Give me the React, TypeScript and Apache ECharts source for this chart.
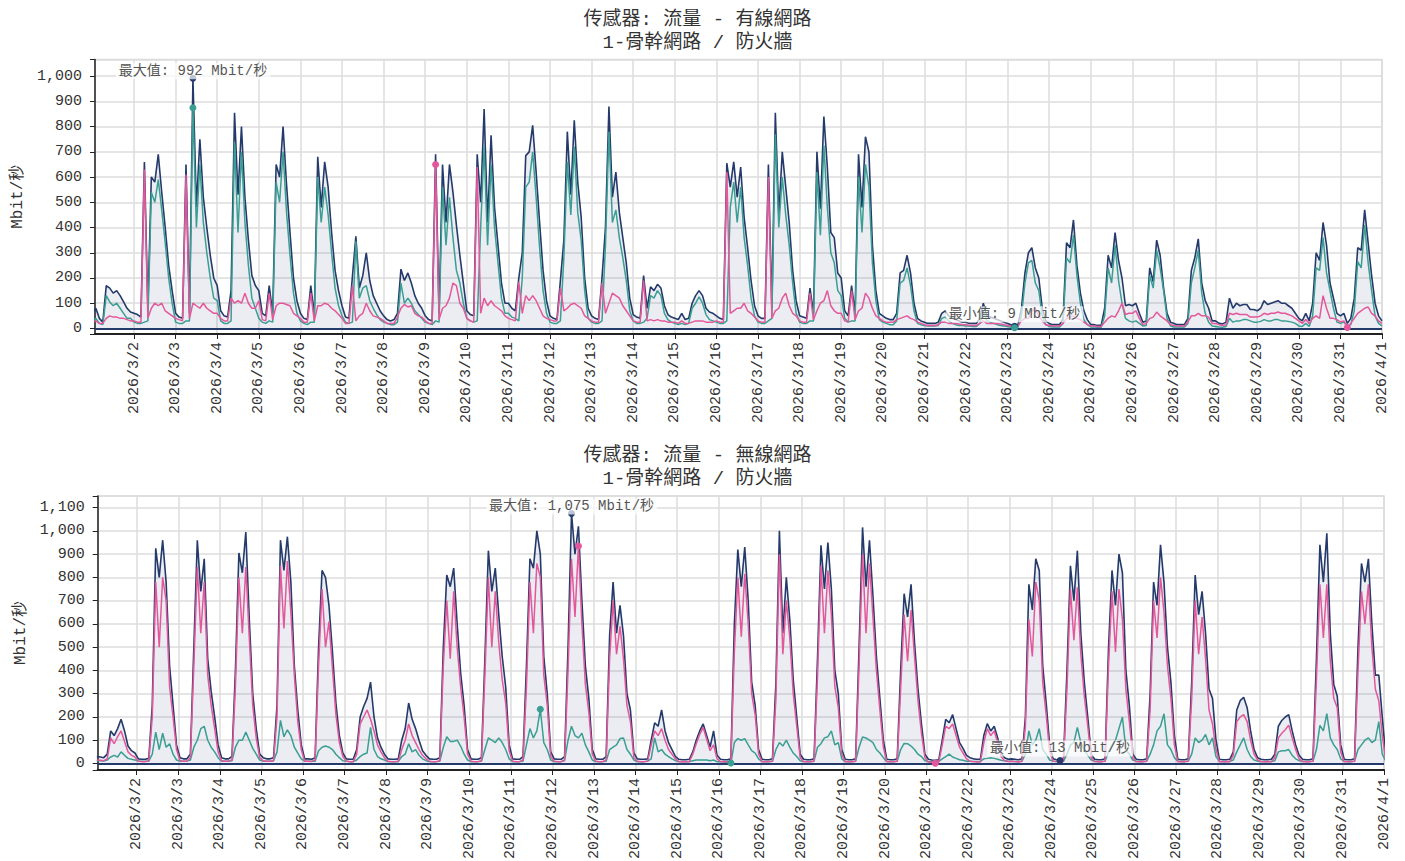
import React, { useEffect, useRef } from 'react';
import * as echarts from 'echarts';

const TOP_TITLE = ['传感器: 流量 - 有線網路', '1-骨幹網路 / 防火牆'];
const BOTTOM_TITLE = ['传感器: 流量 - 無線網路', '1-骨幹網路 / 防火牆'];
const UNIT = 'Mbit/秒';
const MAX_TEXT = '最大值';
const MIN_TEXT = '最小值';

// Wired (top): samples every 2 h starting 2026/3/1 00:00, 12 per day, last = 2026/4/1 00:00
const L_TOTAL = [
  60, 80, 40, 25, 170, 160, 140, 150, 130, 105, 80, 65,
  60, 55, 45, 660, 80, 600, 580, 690, 540, 400, 250, 150,
  60, 45, 40, 650, 60, 992, 480, 750, 520, 400, 290, 200,
  170, 70, 50, 45, 150, 855, 530, 800, 520, 350, 210, 170,
  150, 60, 50, 170, 60, 650, 600, 800, 570, 380, 200, 110,
  60, 40, 35, 170, 50, 680, 480, 660, 560, 380, 230, 150,
  90, 45, 40, 205, 365, 160, 210, 300, 190, 130, 100, 70,
  50, 35, 30, 35, 60, 235, 190, 220, 180, 130, 100, 80,
  50, 35, 30, 690, 60, 650, 420, 650, 540, 410, 290, 180,
  70, 55, 50, 690, 500, 870, 420, 766, 480, 330, 180, 100,
  100, 80, 70, 200, 300, 685, 700, 805, 620, 420, 230, 110,
  50, 40, 35, 190, 350, 780, 530, 825, 580, 440, 200, 80,
  50, 40, 35, 200, 400, 880, 520, 620, 460, 360, 260, 120,
  55, 45, 40, 210, 80, 165, 150, 175, 160, 90, 55, 45,
  40, 35, 60, 35, 40, 100, 130, 150, 130, 80, 65, 60,
  50, 40, 35, 655, 560, 660, 520, 640, 440, 320, 190, 90,
  50, 40, 40, 650, 80, 855, 450, 700, 560, 420, 230, 110,
  50, 45, 40, 160, 60, 700, 475, 840, 640, 380, 360, 220,
  200, 70, 50, 170, 60, 690, 480, 760, 700, 330, 150, 60,
  50, 40, 35, 35, 60, 220, 230, 290, 220, 100, 40, 30,
  25, 20, 20, 20, 25, 60, 70, 50, 40, 35, 30, 25,
  25, 20, 20, 20, 40, 100, 50, 45, 40, 35, 30, 25,
  20, 15, 9, 15, 80, 220, 300, 320, 240, 200, 80, 30,
  20, 15, 15, 15, 40, 340, 320, 430, 250, 140, 70, 35,
  15, 15, 12, 12, 80, 290, 240, 380, 270, 200, 90, 95,
  90, 100, 60, 25, 30, 240, 185, 350, 290, 160, 60, 25,
  20, 15, 15, 15, 40, 230, 280, 355, 180, 110, 80, 30,
  30, 20, 18, 25, 120, 80, 100, 90, 95, 95, 75, 75,
  70, 80, 110, 95, 100, 105, 110, 100, 100, 90, 80, 60,
  40, 30, 60, 30, 100, 300, 270, 420, 330, 180, 120, 60,
  50, 60, 20, 40, 120, 320, 310, 470, 340, 210, 100, 50,
  30,
];
const L_TEAL = [
  30, 40, 20, 15, 130, 105, 90, 100, 80, 60, 40, 40,
  25, 20, 20, 25, 30, 540, 500, 590, 470, 340, 200, 100,
  25, 20, 20, 30, 30, 875, 400, 650, 420, 300, 200, 120,
  110, 30, 20, 20, 30, 740, 380, 700, 420, 250, 120, 80,
  40, 25, 20, 30, 25, 580, 500, 700, 460, 290, 140, 60,
  30, 20, 15, 25, 25, 600, 420, 560, 450, 300, 160, 90,
  50, 25, 20, 25, 345, 120, 160, 170, 110, 80, 55, 35,
  25, 20, 15, 15, 25, 180, 100, 120, 100, 70, 55, 40,
  25, 20, 15, 30, 25, 560, 330, 520, 360, 230, 180, 100,
  40, 30, 25, 30, 400, 720, 330, 650, 400, 260, 120, 60,
  60, 45, 40, 30, 200, 560, 580, 700, 520, 320, 150, 60,
  25, 20, 20, 30, 280, 660, 450, 720, 460, 350, 150, 40,
  25, 20, 20, 30, 330, 780, 420, 470, 360, 280, 190, 70,
  30, 20, 20, 25, 40, 130, 120, 150, 130, 60, 35, 25,
  20, 15, 20, 15, 20, 80, 100, 125, 100, 55, 35, 30,
  25, 20, 20, 30, 480, 580, 420, 560, 360, 250, 120, 50,
  25, 20, 20, 30, 40, 770, 400, 600, 450, 330, 180, 60,
  25, 20, 20, 30, 30, 620, 370, 725, 480, 300, 260, 150,
  130, 40, 25, 30, 30, 600, 380, 650, 560, 260, 110, 35,
  25, 20, 15, 15, 30, 180, 190, 240, 170, 70, 20, 15,
  12, 10, 10, 10, 12, 40, 45, 30, 20, 15, 12, 12,
  10, 10, 8, 8, 20, 70, 30, 25, 20, 15, 12, 10,
  8, 5, 3, 5, 50, 180, 260, 270, 180, 150, 50, 15,
  8, 6, 6, 6, 20, 280, 260, 370, 210, 100, 35, 15,
  6, 6, 5, 5, 50, 240, 180, 330, 190, 100, 40, 30,
  25, 30, 20, 10, 12, 210, 160, 310, 240, 150, 40, 10,
  6, 6, 6, 6, 20, 180, 240, 310, 140, 60, 25, 10,
  8, 6, 5, 8, 40, 25, 30, 30, 35, 35, 30, 25,
  25, 28, 35, 30, 30, 35, 35, 30, 30, 28, 25, 20,
  10, 8, 20, 8, 50, 240, 230, 360, 220, 150, 80, 25,
  20, 25, 10, 15, 70, 265, 240, 410, 260, 150, 50, 20,
  10,
];
const L_PINK = [
  30, 30, 20, 20, 40, 50, 45, 45, 40, 40, 35, 30,
  30, 25, 25, 630, 40, 80, 100, 90, 100, 70, 60, 50,
  40, 35, 30, 610, 40, 100, 90, 80, 100, 80, 70, 60,
  60, 40, 30, 30, 120, 100, 110, 100, 140, 100, 80, 80,
  110, 35, 30, 140, 35, 90, 100, 100, 95, 90, 60, 50,
  40, 25, 25, 140, 30, 90, 90, 100, 95, 80, 70, 55,
  40, 20, 20, 170, 30, 50, 60, 100, 70, 50, 45, 40,
  30, 20, 20, 20, 45, 80, 95, 85, 90, 60, 50, 45,
  30, 20, 20, 650, 35, 80, 90, 120, 180, 170, 100, 80,
  40, 30, 25, 640, 60, 120, 90, 110, 90, 80, 70, 50,
  40, 35, 30, 185, 60, 130, 110, 130, 110, 80, 50, 40,
  35, 30, 30, 160, 70, 80, 95, 100, 90, 80, 50, 40,
  30, 25, 25, 180, 60, 100, 140, 130, 120, 90, 70, 50,
  30, 25, 25, 190, 30, 35, 30, 35, 30, 30, 25, 25,
  25, 20, 30, 20, 20, 25, 30, 30, 30, 25, 25, 25,
  30, 25, 25, 620, 60, 70, 80, 80, 100, 70, 60, 45,
  30, 25, 25, 600, 40, 70, 80, 120, 140, 90, 60, 50,
  30, 25, 25, 140, 35, 70, 100, 110, 150, 90, 70, 60,
  60, 30, 25, 150, 35, 70, 80, 140, 120, 80, 50, 40,
  30, 25, 25, 25, 35, 40, 45, 50, 40, 35, 25, 20,
  15, 12, 12, 12, 15, 25, 25, 20, 20, 20, 18, 15,
  15, 12, 12, 12, 20, 30, 20, 20, 20, 20, 18, 15,
  12, 10, 6, 10, 30, 40, 40, 70, 80, 50, 30, 15,
  12, 10, 10, 10, 20, 40, 45, 50, 40, 35, 25, 15,
  10, 10, 8, 8, 25, 40, 50, 45, 70, 100, 55, 60,
  60, 70, 40, 15, 20, 40, 45, 65, 50, 40, 30, 15,
  12, 10, 10, 10, 25, 50, 50, 60, 50, 50, 45, 20,
  20, 15, 12, 15, 60, 55, 60, 55, 55, 55, 45, 45,
  45, 50, 60, 55, 60, 60, 65, 60, 60, 55, 50, 40,
  30, 20, 35, 20, 40, 50, 40, 130, 80, 40, 40, 35,
  25, 30, 4, 20, 40, 60, 70, 80, 85, 60, 50, 30,
  20,
];

// Wireless (bottom): samples every 2 h starting 2026/3/1 01:00, 12 per day, last = 2026/4/1 01:00
const W_TOTAL = [
  30, 28, 25, 40, 140, 120, 150, 190, 140, 75, 55, 45,
  20, 18, 18, 22, 250, 925, 800, 960, 780, 420, 250, 80,
  25, 20, 20, 40, 500, 960, 740, 880, 450, 310, 200, 80,
  25, 20, 20, 30, 400, 905, 820, 995, 620, 300, 150, 40,
  25, 20, 20, 25, 250, 960, 830, 975, 780, 420, 230, 80,
  20, 20, 18, 25, 500, 830, 800, 680, 480, 260, 120, 45,
  20, 18, 18, 60, 200, 245, 280, 350, 200, 110, 70, 40,
  20, 18, 18, 20, 100, 150, 260, 190, 150, 100, 55, 35,
  20, 18, 18, 25, 500, 810, 760, 840, 600, 390, 250, 60,
  20, 18, 18, 25, 450, 915, 740, 840, 640, 460, 330, 80,
  20, 18, 18, 30, 420, 880, 840, 1000, 900, 460, 300, 50,
  20, 18, 18, 30, 500, 1075, 900, 1020, 700, 420, 280, 60,
  20, 18, 18, 30, 550, 780, 560, 680, 550, 300, 230, 45,
  20, 18, 18, 20, 100, 175, 160, 230, 140, 90, 60, 30,
  18, 16, 16, 18, 50, 100, 140, 170, 120, 70, 140, 35,
  18, 16, 16, 20, 600, 920, 760, 930, 700, 350, 250, 60,
  18, 16, 16, 20, 350, 1000, 560, 800, 620, 360, 200, 40,
  18, 16, 16, 20, 450, 938, 750, 950, 750, 400, 300, 60,
  18, 16, 16, 20, 500, 1015, 760, 960, 720, 460, 280, 100,
  18, 16, 16, 20, 400, 730, 630, 770, 520, 320, 170, 40,
  18, 15, 14, 16, 100, 190, 175, 210, 150, 90, 65, 35,
  25, 20, 18, 18, 120, 171, 140, 160, 110, 45, 25, 18,
  20, 18, 16, 20, 200, 770, 660, 880, 830, 420, 260, 80,
  20, 16, 13, 20, 400, 850, 700, 915, 560, 350, 200, 40,
  18, 16, 16, 20, 500, 830, 680, 900, 820, 400, 250, 40,
  18, 16, 16, 20, 300, 780, 680, 940, 780, 500, 350, 120,
  18, 16, 16, 20, 350, 810, 640, 740, 560, 320, 280, 100,
  18, 16, 16, 18, 50, 230, 270, 285, 240, 140, 60, 25,
  18, 16, 16, 18, 40, 160, 185, 200, 210, 140, 80, 35,
  18, 16, 16, 20, 450, 940, 780, 990, 560, 340, 290, 80,
  18, 16, 16, 20, 500, 860, 780, 880, 600, 380, 380, 200,
  30,
];
const W_PINK = [
  15, 14, 12, 20, 110, 85, 115, 140, 95, 50, 35, 28,
  10, 8, 8, 12, 200, 780, 500, 800, 700, 330, 200, 60,
  12, 10, 10, 25, 420, 845, 560, 780, 380, 250, 150, 50,
  12, 10, 10, 15, 330, 800, 560, 845, 540, 250, 110, 25,
  12, 10, 10, 12, 200, 850, 580, 870, 650, 380, 180, 60,
  10, 10, 8, 15, 420, 750, 500, 610, 410, 210, 90, 30,
  10, 8, 8, 40, 170, 200, 230, 190, 140, 80, 50, 25,
  10, 8, 8, 10, 60, 100, 170, 120, 90, 60, 35, 20,
  10, 8, 8, 12, 420, 700, 450, 740, 500, 330, 200, 40,
  10, 8, 8, 12, 380, 800, 500, 740, 520, 360, 260, 55,
  10, 8, 8, 15, 330, 780, 560, 860, 800, 380, 250, 30,
  10, 8, 8, 15, 400, 880, 630, 935, 600, 340, 220, 40,
  10, 8, 8, 15, 450, 700, 470, 590, 450, 250, 180, 25,
  10, 8, 8, 10, 80, 140, 120, 150, 100, 60, 40, 20,
  8, 8, 8, 8, 40, 85, 125, 155, 105, 55, 80, 20,
  8, 8, 8, 10, 480, 800, 545, 815, 600, 300, 210, 40,
  8, 8, 8, 10, 280, 900, 470, 700, 540, 300, 160, 25,
  8, 8, 8, 10, 370, 850, 560, 830, 640, 330, 240, 40,
  8, 8, 8, 10, 420, 900, 560, 860, 630, 400, 230, 70,
  8, 8, 8, 10, 320, 640, 440, 660, 460, 270, 130, 25,
  6, 5, 1, 6, 80, 160, 150, 170, 120, 70, 45, 20,
  10, 8, 6, 6, 90, 150, 120, 140, 90, 30, 12, 8,
  10, 8, 6, 10, 160, 620, 460, 780, 700, 350, 210, 50,
  10, 8, 5, 10, 320, 750, 530, 757, 470, 290, 160, 25,
  8, 8, 8, 10, 420, 740, 480, 750, 620, 320, 180, 25,
  8, 8, 8, 10, 230, 700, 540, 800, 650, 420, 280, 80,
  8, 8, 8, 10, 280, 700, 470, 630, 450, 230, 170, 60,
  8, 8, 8, 8, 35, 180, 200, 210, 180, 100, 40, 15,
  8, 8, 8, 8, 25, 110, 130, 145, 165, 110, 60, 20,
  8, 8, 8, 10, 360, 770, 540, 770, 440, 280, 240, 50,
  8, 8, 8, 10, 400, 740, 600, 770, 500, 320, 270, 120,
  15,
];
const W_TEAL = [
  12, 12, 11, 15, 28, 35, 28, 50, 35, 22, 18, 15,
  10, 10, 10, 10, 40, 135, 60, 130, 70, 85, 40, 15,
  10, 10, 10, 15, 70, 100, 150, 160, 100, 70, 50, 25,
  10, 10, 10, 12, 70, 100, 100, 135, 100, 65, 40, 15,
  10, 10, 10, 12, 50, 185, 115, 145, 120, 70, 45, 20,
  10, 10, 10, 10, 55, 70, 75, 70, 60, 40, 25, 12,
  10, 8, 8, 15, 30, 40, 45, 155, 60, 30, 20, 15,
  8, 8, 8, 8, 30, 40, 85, 50, 60, 35, 20, 12,
  8, 8, 8, 10, 70, 115, 95, 95, 100, 75, 40, 15,
  8, 8, 8, 10, 60, 110, 100, 90, 110, 90, 60, 20,
  8, 8, 8, 10, 80, 150, 110, 140, 233, 90, 60, 15,
  8, 8, 8, 12, 100, 160, 120, 110, 130, 80, 50, 15,
  8, 8, 8, 10, 60, 70, 80, 107, 110, 60, 40, 15,
  8, 8, 8, 10, 20, 110, 50, 60, 40, 30, 20, 12,
  8, 7, 7, 8, 12, 15, 15, 15, 15, 12, 15, 8,
  8, 6, 5, 2, 90, 107, 100, 107, 80, 55, 45, 20,
  8, 7, 7, 10, 60, 90, 75, 100, 70, 45, 30, 12,
  8, 7, 7, 10, 70, 85, 110, 115, 140, 80, 90, 20,
  8, 7, 7, 10, 70, 114, 110, 100, 90, 60, 45, 25,
  8, 7, 7, 10, 60, 86, 85, 75, 60, 40, 30, 12,
  8, 8, 8, 9, 20, 30, 40, 28, 22, 16, 14, 10,
  10, 9, 9, 9, 20, 22, 25, 22, 18, 14, 12, 10,
  10, 9, 8, 10, 40, 140, 80, 100, 150, 60, 40, 15,
  10, 8, 6, 10, 40, 80, 90, 155, 90, 60, 35, 15,
  10, 8, 8, 10, 50, 80, 100, 150, 200, 60, 40, 15,
  10, 8, 8, 10, 40, 80, 140, 160, 214, 80, 60, 25,
  10, 8, 8, 10, 40, 110, 90, 100, 125, 80, 110, 30,
  9, 8, 8, 9, 15, 50, 80, 110, 60, 30, 15, 10,
  9, 8, 8, 9, 12, 50, 55, 55, 60, 35, 20, 12,
  10, 8, 8, 10, 60, 164, 140, 214, 110, 80, 60, 20,
  10, 8, 8, 10, 60, 80, 100, 110, 90, 100, 180, 40,
  10,
];

const NAVY = '#243a6b';
const TEAL = '#3a9e93';
const PINK = '#e4589b';
const FILL = 'rgba(36,58,107,0.13)';
const GRIDLINE = '#dcdcdc';
const AXIS = '#222';
const TEXT = '#333';
const MONO = '"Liberation Mono", "Noto Sans CJK TC", monospace';

const HOUR_STEP = 2;
function timeAt(i: number, startHour: number) {
  return new Date(2026, 2, 1 + Math.floor(i / 12), startHour + (i % 12) * HOUR_STEP).getTime();
}
function pairs(values: number[], startHour: number) {
  return values.map((v, i) => [timeAt(i, startHour), v]);
}
function commas(v: number) {
  return String(v).replace(/\B(?=(\d{3})+(?!\d))/g, ',');
}

const X_MIN = new Date(2026, 2, 1, 1, 30).getTime();
const X_MAX = new Date(2026, 3, 1, 0, 0).getTime();
const DAY = 86400000;

function xAxis(gridIndex: number) {
  return {
    type: 'time',
    gridIndex,
    min: X_MIN,
    max: X_MAX,
    minInterval: DAY,
    maxInterval: DAY,
    splitNumber: 31,
    axisLine: { onZero: false, lineStyle: { color: AXIS, width: 2 } },
    axisTick: { show: true, length: 5, lineStyle: { color: AXIS, width: 1 } },
    axisLabel: {
      rotate: 90,
      fontSize: 15,
      fontFamily: MONO,
      color: TEXT,
      margin: 8,
      hideOverlap: false,
      showMaxLabel: true,
      showMinLabel: false,
      formatter: (v: number) => {
        const d = new Date(v);
        if (d.getHours() !== 0 || d.getMinutes() !== 0) return '';
        return `${d.getFullYear()}/${d.getMonth() + 1}/${d.getDate()}`;
      },
    },
    splitLine: { show: true, lineStyle: { color: GRIDLINE, width: 1.5 } },
  };
}

function yAxis(gridIndex: number, min: number, max: number) {
  return {
    type: 'value',
    gridIndex,
    min,
    max,
    splitNumber: 10,
    name: UNIT,
    nameLocation: 'middle',
    nameGap: 66,
    nameTextStyle: { fontSize: 16, fontFamily: MONO, color: TEXT },
    axisLine: { show: true, lineStyle: { color: AXIS, width: 1.5 } },
    axisTick: { show: true, length: 5, lineStyle: { color: AXIS } },
    axisLabel: {
      fontSize: 15,
      fontFamily: MONO,
      color: TEXT,
      margin: 13,
      formatter: (v: number) => (Math.round(v) % 100 === 0 && v >= 0 ? commas(v) : ''),
    },
    splitLine: { show: true, lineStyle: { color: GRIDLINE, width: 1.5 } },
  };
}

const markLabel = {
  show: true,
  position: 'inside',
  fontSize: 14,
  fontFamily: MONO,
  color: '#555',
  backgroundColor: 'rgba(255,255,255,0.7)',
  padding: [1, 3],
};

function totalSeries(values: number[], startHour: number, idx: number) {
  return {
    type: 'line',
    xAxisIndex: idx,
    yAxisIndex: idx,
    data: pairs(values, startHour),
    showSymbol: false,
    symbol: 'none',
    lineStyle: { color: NAVY, width: 1.6 },
    itemStyle: { color: NAVY },
    areaStyle: { color: FILL },
    z: 2,
    markLine: {
      silent: true,
      symbol: 'none',
      label: { show: false },
      lineStyle: { color: NAVY, width: 2, type: 'solid' },
      data: [{ yAxis: 0 }],
    },
    markPoint: {
      symbol: 'circle',
      symbolSize: 7,
      itemStyle: { color: NAVY },
      data: [
        {
          type: 'max',
          label: { ...markLabel, offset: [0, -7], formatter: (p: any) => `${MAX_TEXT}: ${commas(p.value)} ${UNIT}` },
        },
        {
          type: 'min',
          label: { ...markLabel, offset: [0, -12], formatter: (p: any) => `${MIN_TEXT}: ${commas(p.value)} ${UNIT}` },
        },
      ],
    },
  };
}

function partSeries(values: number[], startHour: number, idx: number, color: string, z: number) {
  return {
    type: 'line',
    xAxisIndex: idx,
    yAxisIndex: idx,
    data: pairs(values, startHour),
    showSymbol: false,
    symbol: 'none',
    lineStyle: { color, width: 1.5 },
    itemStyle: { color },
    z,
    markPoint: {
      symbol: 'circle',
      symbolSize: 7,
      itemStyle: { color },
      label: { show: false },
      data: [{ type: 'max' }, { type: 'min' }],
    },
  };
}

function titleText(text: string, y: number) {
  return {
    type: 'text',
    x: 697.5,
    y,
    style: {
      text,
      font: `19px ${MONO}`,
      fill: TEXT,
      textAlign: 'center',
      align: 'center',
      textVerticalAlign: 'middle',
      verticalAlign: 'middle',
    },
  };
}

export default function App() {
  const ref = useRef<HTMLDivElement>(null);
  useEffect(() => {
    if (!ref.current) return;
    const chart = echarts.init(ref.current, undefined, { renderer: 'svg' });
    chart.setOption({
      animation: false,
      backgroundColor: '#fff',
      graphic: [
        titleText(TOP_TITLE[0], 20),
        titleText(TOP_TITLE[1], 43),
        titleText(BOTTOM_TITLE[0], 456),
        titleText(BOTTOM_TITLE[1], 479),
      ],
      grid: [
        { left: 95, top: 59.5, right: 23, height: 274.5, show: true, borderColor: GRIDLINE, borderWidth: 1.5, backgroundColor: 'transparent', outerBoundsMode: 'none' },
        { left: 97.7, top: 496, right: 21, height: 274, show: true, borderColor: GRIDLINE, borderWidth: 1.5, backgroundColor: 'transparent', outerBoundsMode: 'none' },
      ],
      xAxis: [xAxis(0), xAxis(1)],
      yAxis: [yAxis(0, -22, 1066), yAxis(1, -28, 1150)],
      series: [
        totalSeries(L_TOTAL, 0, 0),
        partSeries(L_TEAL, 0, 0, TEAL, 3),
        partSeries(L_PINK, 0, 0, PINK, 4),
        totalSeries(W_TOTAL, 1, 1),
        partSeries(W_TEAL, 1, 1, TEAL, 3),
        partSeries(W_PINK, 1, 1, PINK, 4),
      ],
    });
    return () => chart.dispose();
  }, []);
  return <div ref={ref} style={{ position: 'fixed', left: 0, top: 0, width: 1405, height: 861 }} />;
}
